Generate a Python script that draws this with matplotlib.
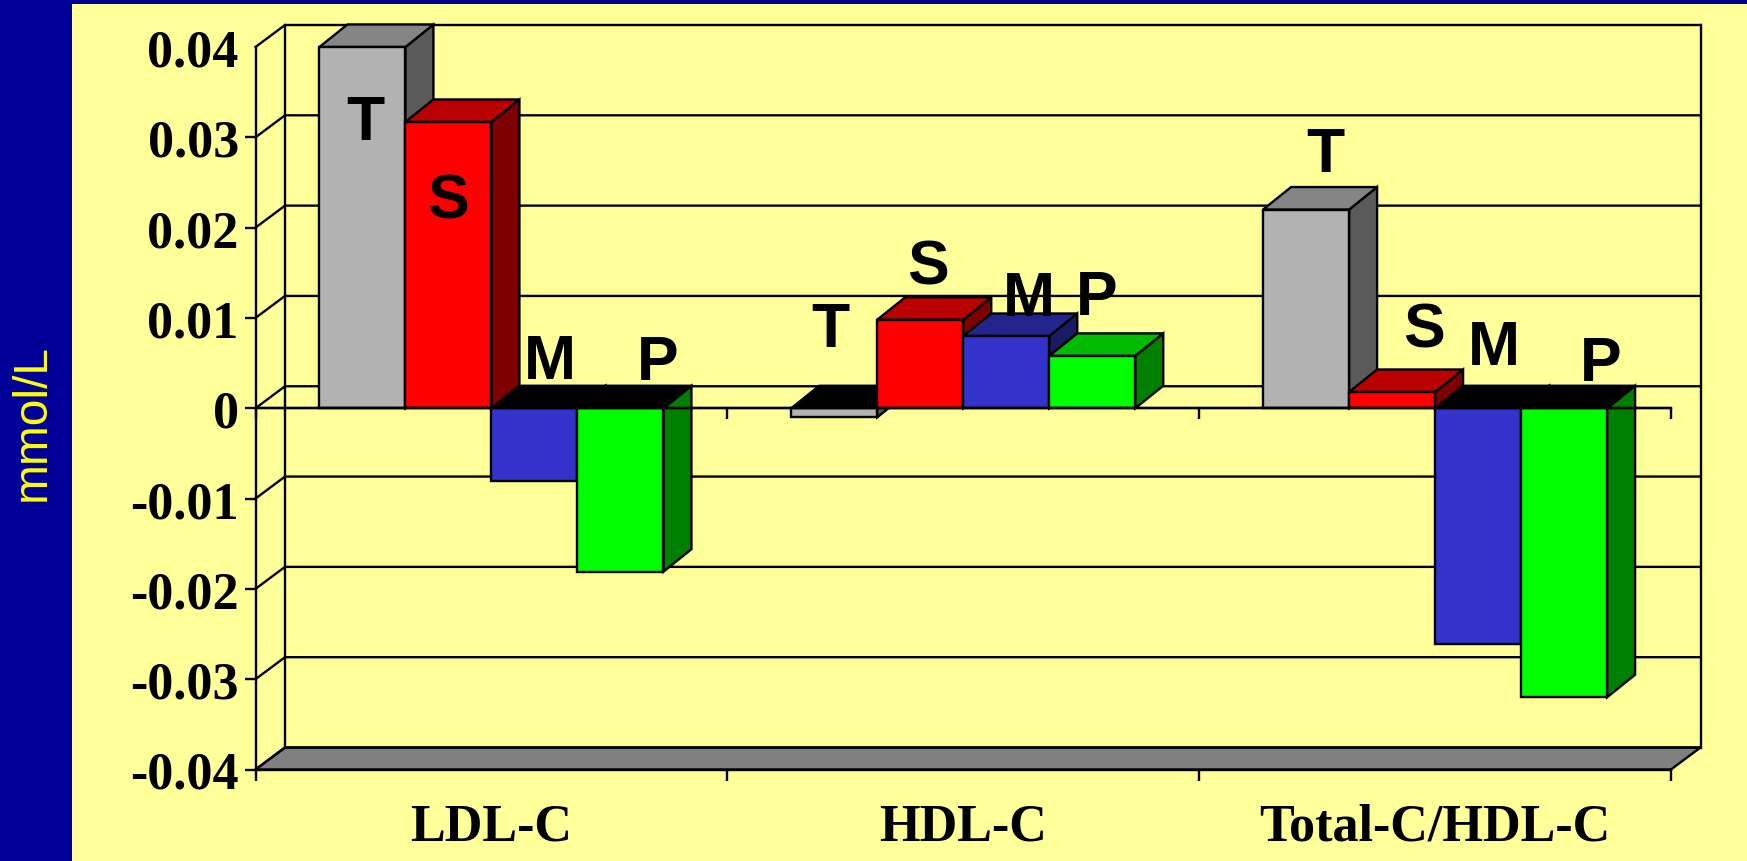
import numpy as np
import matplotlib
matplotlib.use('Agg')
import matplotlib.pyplot as plt
from matplotlib.patches import Polygon, Rectangle

categories = ['LDL-C', 'HDL-C', 'Total-C/HDL-C']
letters = ['T', 'S', 'M', 'P']
ldl = [0.0400, 0.0317, -0.0080, -0.0181]
hdl = [-0.0010, 0.0098, 0.0080, 0.0058]
total_hdl = [0.0220, 0.0018, -0.0261, -0.0320]
y_ticks = [-0.04, -0.03, -0.02, -0.01, 0, 0.01, 0.02, 0.03, 0.04]
y_labels = ['-0.04', '-0.03', '-0.02', '-0.01', '0', '0.01', '0.02', '0.03', '0.04']

# front, top, side shades for each series
front_cols = ['#B2B2B2', '#FF0000', '#3333CC', '#00FF00']
top_cols = ['#858585', '#BB0000', '#24248F', '#00BB00']
side_cols = ['#5A5A5A', '#7F0000', '#1A1A66', '#007F00']

# letter offsets from the bar's value end, in pixels
letter_offsets = [
    [(3, -75), (0, -79), (15, 119), (37, 209)],
    [(-4, 88), (8, 53), (23, 38), (4, 58)],
    [(19, 55), (32, 62), (16, 296), (37, 334)],
]

W, H = 1747, 862
fig = plt.figure(figsize=(W / 100, H / 100), dpi=100, facecolor='#000099')
fig.add_artist(Rectangle((72 / W, 0), 1 - 72 / W, 1 - 5 / H, transform=fig.transFigure,
                         facecolor='#FFFF99', edgecolor='none', zorder=-1))

ax = fig.add_axes([255.5 / W, (H - 770.5) / H, (1671 - 255.5) / W, (770.5 - 48) / H])
ax.patch.set_visible(False)
ax.set_xlim(0, 3)
ax.set_ylim(-0.04, 0.04)

px_x = 3 / (1671 - 255.5)
px_y = 0.08 / (770.5 - 48)
wall_dx, wall_dy = 29.5 * px_x, 22 * px_y
bar_dx, bar_dy = 28 * px_x, 22.5 * px_y
bar_w = 86 * px_x
LW = 1.7


def poly(pts, color, z):
    ax.add_patch(Polygon(pts, closed=True, facecolor=color, edgecolor='black',
                         linewidth=LW, zorder=z, clip_on=False, joinstyle='miter'))


# floor and walls
poly([(0, -0.04), (3, -0.04), (3 + wall_dx, -0.04 + wall_dy), (wall_dx, -0.04 + wall_dy)], '#808080', 1)
for v in y_ticks:
    ax.plot([0, wall_dx, 3 + wall_dx], [v, v + wall_dy, v + wall_dy], color='black', lw=LW,
            clip_on=False, zorder=1, solid_joinstyle='miter')
ax.plot([wall_dx, wall_dx], [-0.04 + wall_dy, 0.04 + wall_dy], color='black', lw=LW, clip_on=False, zorder=1)
ax.plot([3 + wall_dx, 3 + wall_dx], [-0.04 + wall_dy, 0.04 + wall_dy], color='black', lw=LW, clip_on=False, zorder=1)

# bars, left to right so each one overlaps the side of the previous one
z = 2
for c, values in enumerate([ldl, hdl, total_hdl]):
    start = c + 0.5 - 2 * bar_w
    for i, v in enumerate(values):
        x0 = start + i * bar_w
        x1 = x0 + bar_w
        top_y = max(v, 0)
        poly([(x1, 0), (x1 + bar_dx, bar_dy), (x1 + bar_dx, v + bar_dy), (x1, v)], side_cols[i], z)
        poly([(x0, top_y), (x1, top_y), (x1 + bar_dx, top_y + bar_dy), (x0 + bar_dx, top_y + bar_dy)],
             top_cols[i] if v >= 0 else 'black', z)
        poly([(x0, 0), (x1, 0), (x1, v), (x0, v)], front_cols[i], z)
        z += 1
        ax.annotate(letters[i], xy=(x0 + bar_w / 2, v), xytext=letter_offsets[c][i],
                    textcoords='offset pixels', ha='center', va='center', fontsize=45,
                    family='Liberation Sans', fontweight='bold', color='black',
                    zorder=50, annotation_clip=False)

for s in ['top', 'right']:
    ax.spines[s].set_visible(False)
for s in ['left', 'bottom']:
    ax.spines[s].set_linewidth(LW)
    ax.spines[s].set_zorder(40)

ax.set_yticks(y_ticks)
ax.set_yticklabels(y_labels, family='Liberation Serif', fontweight='bold', fontsize=37.5)
ax.tick_params(axis='y', length=8, width=LW, pad=4)
ax.yaxis.get_major_ticks()[-1].tick1line.set_visible(False)

ax.set_xticks(np.arange(3) + 0.5)
ax.set_xticklabels(categories, family='Liberation Serif', fontweight='bold', fontsize=37.5)
ax.set_xticks(np.arange(4), minor=True)
ax.tick_params(axis='x', which='major', length=0, pad=24)
ax.tick_params(axis='x', which='minor', length=8, width=LW)

# category axis at zero, on top of the bars
zero_axis = ax.secondary_xaxis(0.5)
zero_axis.set_xticks(np.arange(4))
zero_axis.set_xticklabels([])
zero_axis.tick_params(axis='x', direction='out', length=8, width=LW, bottom=True, top=False)
zero_axis.xaxis.set_ticks_position('bottom')
for s in zero_axis.spines.values():
    s.set_linewidth(LW)
zero_axis.set_zorder(45)
ax.axhline(0, color='black', lw=LW, zorder=45)

fig.text(32 / W, 1 - 423 / H, 'mmol/L', rotation=90, ha='center', va='center', color='#FFFF00',
         fontsize=34.5, family='Liberation Sans')

fig.savefig('out.png', dpi=100, facecolor=fig.get_facecolor())
